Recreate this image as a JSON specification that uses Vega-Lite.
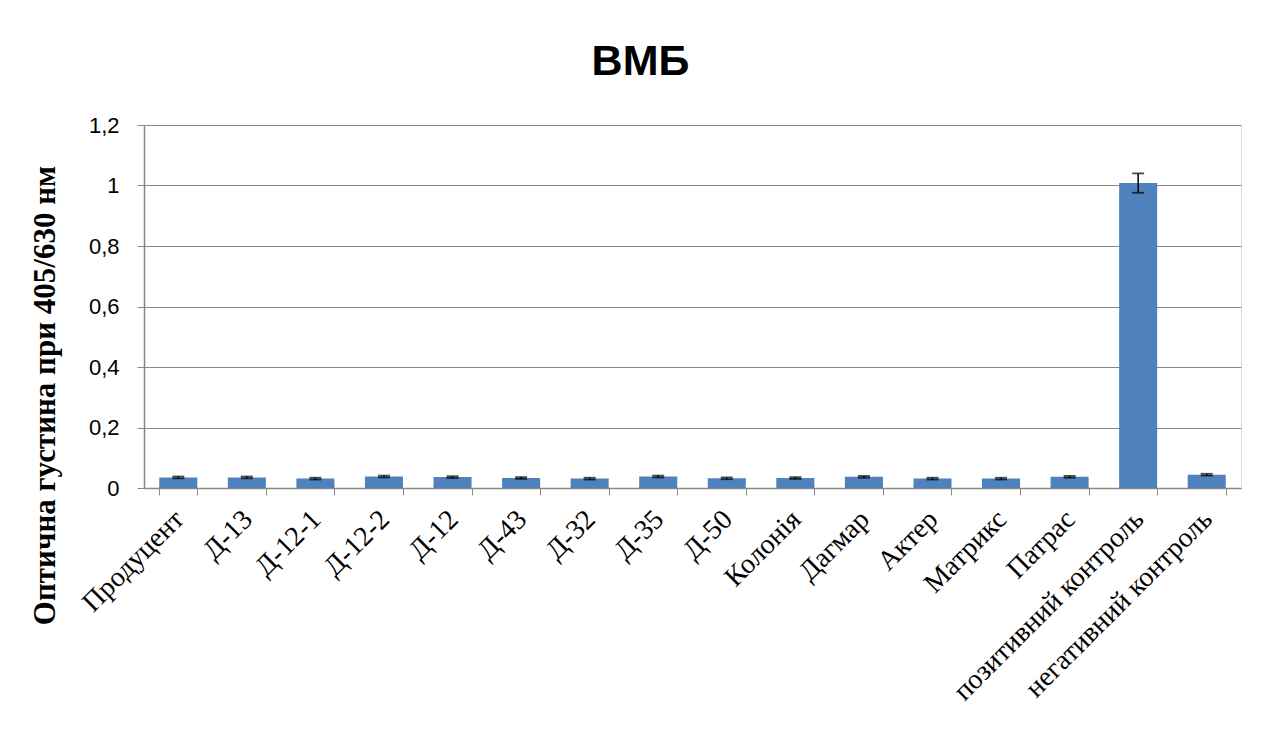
{
  "$schema": "https://vega.github.io/schema/vega-lite/v6.json",
  "autosize": {"type": "none"},
  "width": 1097,
  "height": 363,
  "padding": {"left": 144, "top": 125, "right": 22, "bottom": 243},
  "background": "white",
  "title": {
    "text": "ВМБ",
    "font": "Liberation Sans",
    "fontSize": 43,
    "fontWeight": "bold",
    "color": "black",
    "anchor": "middle",
    "frame": "group",
    "dx": -52,
    "offset": 30
  },
  "data": {
    "values": [
      {"sample": "Продуцент", "od": 0.035, "err": 0.003},
      {"sample": "Д-13", "od": 0.035, "err": 0.003},
      {"sample": "Д-12-1", "od": 0.031, "err": 0.003},
      {"sample": "Д-12-2", "od": 0.038, "err": 0.003},
      {"sample": "Д-12", "od": 0.036, "err": 0.003},
      {"sample": "Д-43", "od": 0.033, "err": 0.003},
      {"sample": "Д-32", "od": 0.031, "err": 0.003},
      {"sample": "Д-35", "od": 0.038, "err": 0.003},
      {"sample": "Д-50", "od": 0.032, "err": 0.003},
      {"sample": "Колонія", "od": 0.033, "err": 0.003},
      {"sample": "Дагмар", "od": 0.037, "err": 0.003},
      {"sample": "Актер", "od": 0.031, "err": 0.003},
      {"sample": "Матрикс", "od": 0.031, "err": 0.003},
      {"sample": "Патрас", "od": 0.037, "err": 0.003},
      {"sample": "позитивний контроль", "od": 1.008, "err": 0.032},
      {"sample": "негативний контроль", "od": 0.044, "err": 0.003}
    ]
  },
  "encoding": {
    "x": {
      "field": "sample",
      "type": "nominal",
      "sort": null,
      "scale": {"paddingInner": 0.445, "paddingOuter": 0.2225},
      "axis": {
        "title": null,
        "labelAngle": -45,
        "labelAlign": "right",
        "labelBaseline": "top",
        "labelFont": "Liberation Serif",
        "labelFontSize": 28,
        "labelColor": "black",
        "labelPadding": 10,
        "labelOffset": -9,
        "labelLimit": 400,
        "tickBand": "extent",
        "tickSize": 7,
        "tickColor": "#888888",
        "domainColor": "#888888",
        "domainWidth": 1.5,
        "grid": false
      }
    }
  },
  "layer": [
    {
      "mark": {"type": "bar", "color": "#4F81BD"},
      "encoding": {
        "y": {
          "field": "od",
          "type": "quantitative",
          "title": "Оптична густина при 405/630 нм",
          "scale": {"domain": [0, 1.2], "nice": false},
          "axis": {
            "titleFont": "Liberation Serif",
            "titleFontSize": 31,
            "titleFontWeight": "bold",
            "titleColor": "black",
            "titleAngle": -90,
            "titleX": -99,
            "titleY": 270,
            "titleAlign": "center",
            "titleBaseline": "middle",
            "values": [0, 0.2, 0.4, 0.6, 0.8, 1, 1.2],
            "format": ",.1~f",
            "labelExpr": "replace(datum.label, '.', ',')",
            "labelFont": "Liberation Sans",
            "labelFontSize": 22,
            "labelColor": "black",
            "labelPadding": 18,
            "tickSize": 7,
            "tickColor": "#888888",
            "domainColor": "#888888",
            "domainWidth": 1.5,
            "gridColor": "#888888",
            "gridWidth": 1.2
          }
        }
      }
    },
    {
      "mark": {
        "type": "errorbar",
        "color": "black",
        "rule": {"strokeWidth": 1.5},
        "ticks": {"size": 12, "thickness": 1.8, "color": "black"}
      },
      "encoding": {
        "y": {"field": "od", "type": "quantitative", "title": "Оптична густина при 405/630 нм"},
        "yError": {"field": "err"}
      }
    }
  ]
}
